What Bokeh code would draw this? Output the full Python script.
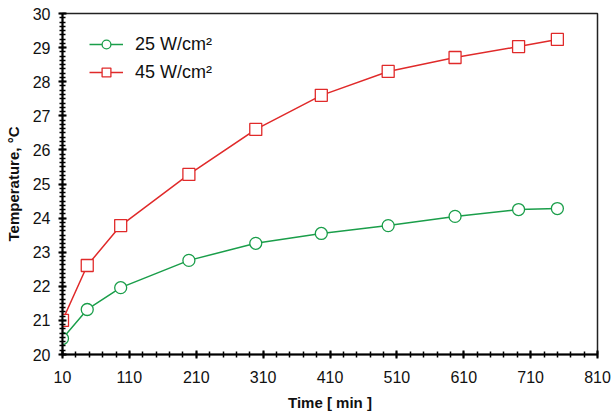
from bokeh.plotting import figure
from bokeh.models import FixedTicker, Range1d, Legend, LegendItem
from bokeh.embed import file_html
from bokeh.resources import INLINE

# Heating curves at two heat-flux levels
time_min = [10, 47, 97, 199, 299, 397, 497, 597, 692, 750]
temp_25 = [20.47, 21.32, 21.96, 22.76, 23.26, 23.55, 23.78, 24.05, 24.25, 24.28]
temp_45 = [21.0, 22.61, 23.78, 25.28, 26.6, 27.6, 28.3, 28.71, 29.03, 29.24]

x_ticks = [10, 110, 210, 310, 410, 510, 610, 710, 810]
y_ticks = [20, 21, 22, 23, 24, 25, 26, 27, 28, 29, 30]

GREEN = "#1a9e4a"
RED = "#e02a2a"
FONT = "Liberation Sans"

p = figure(width=612, height=417, output_backend="svg", toolbar_location=None,
           x_range=Range1d(10, 810), y_range=Range1d(20, 30),
           min_border_left=62, min_border_right=15,
           min_border_top=13, min_border_bottom=63)

p.xgrid.visible = False
p.ygrid.visible = False
p.outline_line_color = "#222222"
p.outline_line_width = 1.5
p.background_fill_color = "white"
p.border_fill_color = "white"

x_minor = [v for v in range(10, 811, 20)]
y_minor = [20 + i * 0.125 for i in range(81)]
p.xaxis.ticker = FixedTicker(ticks=x_ticks, minor_ticks=x_minor)
p.yaxis.ticker = FixedTicker(ticks=y_ticks, minor_ticks=y_minor)

for ax in (p.xaxis, p.yaxis):
    ax.axis_line_color = "black"
    ax.axis_line_width = 2
    ax.major_tick_line_color = "black"
    ax.major_tick_line_width = 2
    ax.minor_tick_line_color = "black"
    ax.minor_tick_line_width = 1.5
    ax.major_tick_in = 4
    ax.major_tick_out = 4
    ax.minor_tick_in = 3
    ax.minor_tick_out = 3
    ax.major_label_text_font = FONT
    ax.major_label_text_font_size = "16px"
    ax.major_label_text_color = "#111111"
    ax.axis_label_text_font = FONT
    ax.axis_label_text_font_size = "15px"
    ax.axis_label_text_font_style = "bold"
    ax.axis_label_text_color = "#111111"

p.xaxis.axis_label = "Time [ min ]"
p.yaxis.axis_label = "Temperature, °C"
p.xaxis.major_label_standoff = 12
p.xaxis.axis_label_standoff = 8
p.yaxis.major_label_standoff = 8
p.yaxis.axis_label_standoff = 8

l25 = p.line(time_min, temp_25, line_color=GREEN, line_width=1.5)
m25 = p.scatter(time_min, temp_25, marker="circle", size=12,
                line_color=GREEN, line_width=1.3, fill_color="white")
l45 = p.line(time_min, temp_45, line_color=RED, line_width=1.5)
m45 = p.scatter(time_min, temp_45, marker="square", size=12,
                line_color=RED, line_width=1.3, fill_color="white")

legend = Legend(items=[LegendItem(label="25 W/cm²", renderers=[l25, m25]),
                       LegendItem(label="45 W/cm²", renderers=[l45, m45])],
                location=(27, 271), border_line_color=None,
                background_fill_alpha=0, glyph_width=34, glyph_height=22,
                label_text_font=FONT, label_text_font_size="18px",
                label_text_color="#111111", spacing=6,
                margin=0, padding=6, label_standoff=12)
p.add_layout(legend)

open("out.html", "w").write(file_html(p, INLINE))
